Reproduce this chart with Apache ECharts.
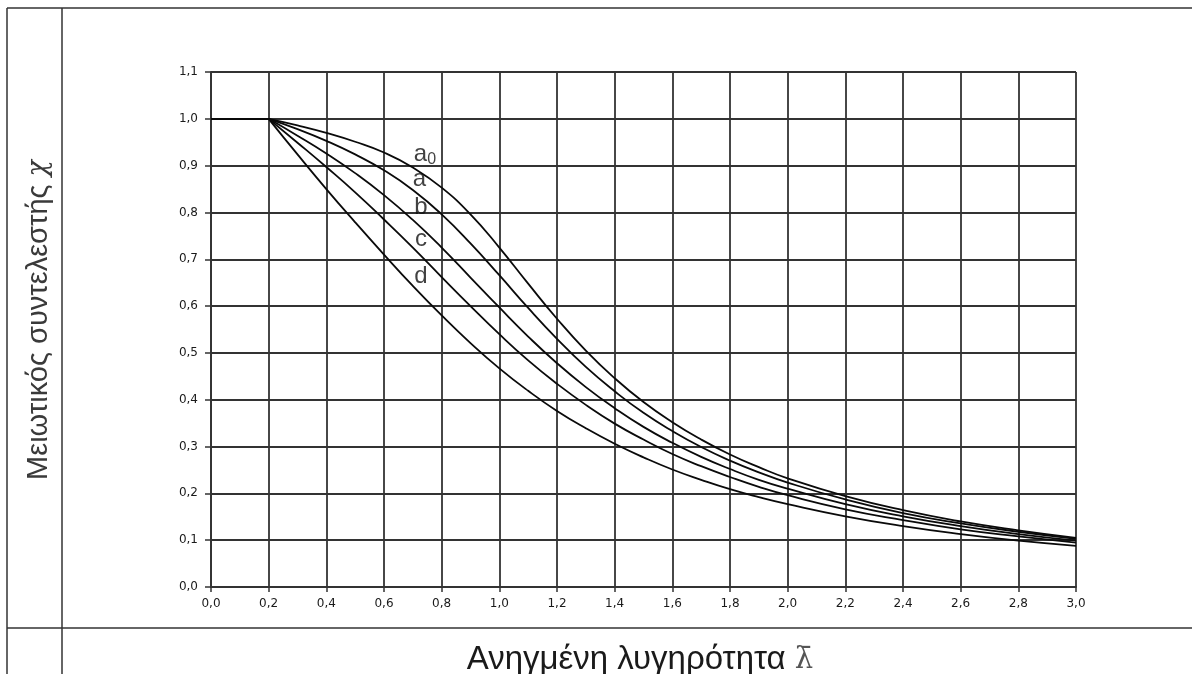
<!DOCTYPE html>
<html>
<head>
<meta charset="utf-8">
<script src="https://cdn.jsdelivr.net/npm/echarts@6/dist/echarts.min.js"></script>
<style>
html,body{margin:0;padding:0;background:#fff;}
#chart{width:1192px;height:674px;}
</style>
</head>
<body>
<div id="chart"></div>
<script>
// Reduced slenderness values (x)
const lambdaVals = [0.0,0.1,0.2,0.3,0.4,0.5,0.6,0.7,0.8,0.9,1.0,1.1,1.2,1.3,1.4,1.5,1.6,1.7,1.8,1.9,2.0,2.2,2.4,2.6,2.8,3.0];
// Reduction factor chi for each curve
const curveA0 = [1,1,1,0.986,0.970,0.951,0.928,0.896,0.853,0.796,0.725,0.648,0.573,0.505,0.446,0.395,0.352,0.315,0.283,0.256,0.232,0.194,0.164,0.140,0.121,0.105];
const curveA  = [1,1,1,0.978,0.953,0.924,0.890,0.848,0.796,0.734,0.666,0.596,0.530,0.470,0.418,0.372,0.333,0.299,0.270,0.245,0.223,0.187,0.158,0.136,0.118,0.103];
const curveB  = [1,1,1,0.964,0.926,0.884,0.837,0.784,0.725,0.661,0.597,0.535,0.478,0.427,0.382,0.342,0.308,0.278,0.252,0.229,0.210,0.177,0.151,0.130,0.113,0.099];
const curveC  = [1,1,1,0.949,0.897,0.843,0.785,0.725,0.662,0.600,0.540,0.484,0.434,0.389,0.349,0.315,0.284,0.258,0.235,0.214,0.196,0.166,0.143,0.123,0.108,0.095];
const curveD  = [1,1,1,0.924,0.850,0.779,0.710,0.643,0.580,0.521,0.467,0.419,0.376,0.339,0.306,0.277,0.251,0.229,0.209,0.192,0.177,0.151,0.130,0.113,0.099,0.088];
const curveNames = ['a0','a','b','c','d'];
// Curve label anchor positions (in data units)
const labelX = [0.742,0.723,0.728,0.728,0.728];
const labelY = [0.925,0.870,0.811,0.743,0.663];
const labelText = ['{m|a}{s|0}','{m|a}','{m|b}','{m|c}','{m|d}'];
const xTitle = 'Ανηγμένη λυγηρότητα ';
const yTitle = 'Μειωτικός συντελεστής ';
const plateauEnd = 0.2;

const curves = [curveA0, curveA, curveB, curveC, curveD];
const chart = echarts.init(document.getElementById('chart'));
const fmt = v => v.toFixed(1).replace('.', ',');
const gridColor = '#333';
const curveStyle = { color: '#0a0a0a', width: 1.8 };

const series = [];
curves.forEach((c, i) => {
  const pts = lambdaVals.map((x, j) => [x, c[j]]);
  series.push({
    name: curveNames[i] + '-plateau', type: 'line', smooth: false, symbol: 'none',
    data: pts.filter(p => p[0] <= plateauEnd + 1e-9),
    lineStyle: curveStyle, z: 3
  });
  series.push({
    name: curveNames[i], type: 'line', smooth: 0.5, symbol: 'none',
    data: pts.filter(p => p[0] >= plateauEnd - 1e-9),
    lineStyle: curveStyle, z: 3
  });
});
series.push({
  type: 'scatter',
  symbolSize: 0,
  data: labelX.map((x, i) => ({ value: [x, labelY[i]], label: { formatter: labelText[i] } })),
  label: {
    show: true,
    position: 'inside',
    rich: {
      m: { fontFamily: 'Liberation Sans, Arial', fontSize: 24, color: '#111' },
      s: { fontFamily: 'Liberation Sans, Arial', fontSize: 16, color: '#111', padding: [12,0,0,0] }
    }
  },
  silent: true,
  z: 5
});

const axisLabelStyle = { formatter: fmt, color: '#1a1a1a', fontSize: 12, fontFamily: 'DejaVu Sans' };

chart.setOption({
  animation: false,
  backgroundColor: '#fff',
  grid: { left: 211, right: 116, top: 72, bottom: 87 },
  xAxis: {
    type: 'value', min: 0, max: 3, interval: 0.2,
    axisLine: { show: true, lineStyle: { color: gridColor, width: 1.8 } },
    axisTick: { show: true, length: 5, lineStyle: { color: gridColor, width: 1.5 } },
    axisLabel: Object.assign({ margin: 11 }, axisLabelStyle),
    splitLine: { show: true, lineStyle: { color: gridColor, width: 1.8 } }
  },
  yAxis: {
    type: 'value', min: 0, max: 1.1, interval: 0.1,
    axisLine: { show: true, lineStyle: { color: gridColor, width: 1.8 } },
    axisTick: { show: true, length: 6, lineStyle: { color: gridColor, width: 1.5 } },
    axisLabel: Object.assign({ margin: 13 }, axisLabelStyle),
    splitLine: { show: true, lineStyle: { color: gridColor, width: 1.8 } }
  },
  graphic: [
    { type: 'line', shape: { x1: 7, y1: 8, x2: 1192, y2: 8 }, style: { stroke: '#333', lineWidth: 1.5 } },
    { type: 'line', shape: { x1: 7, y1: 8, x2: 7, y2: 674 }, style: { stroke: '#333', lineWidth: 1.5 } },
    { type: 'line', shape: { x1: 62, y1: 8, x2: 62, y2: 674 }, style: { stroke: '#333', lineWidth: 1.5 } },
    { type: 'line', shape: { x1: 7, y1: 628, x2: 1192, y2: 628 }, style: { stroke: '#333', lineWidth: 1.5 } },
    {
      type: 'text', x: 39, y: 320, rotation: Math.PI / 2,
      style: {
        text: '{t|' + yTitle + '}{g|χ}',
        align: 'center', verticalAlign: 'middle',
        rich: {
          t: { fontFamily: 'Liberation Sans, Arial', fontSize: 29, fill: '#3a3a3a' },
          g: { fontFamily: 'DejaVu Serif', fontSize: 27, fill: '#3a3a3a', fontStyle: 'italic' }
        }
      }
    },
    {
      type: 'text', x: 640, y: 660,
      style: {
        text: '{t|' + xTitle + '}{g|λ̄}',
        align: 'center', verticalAlign: 'middle',
        rich: {
          t: { fontFamily: 'Liberation Sans, Arial', fontSize: 33, fill: '#1a1a1a' },
          g: { fontFamily: 'DejaVu Serif', fontSize: 29, fill: '#555' }
        }
      }
    }
  ],
  series: series
});
</script>
</body>
</html>
